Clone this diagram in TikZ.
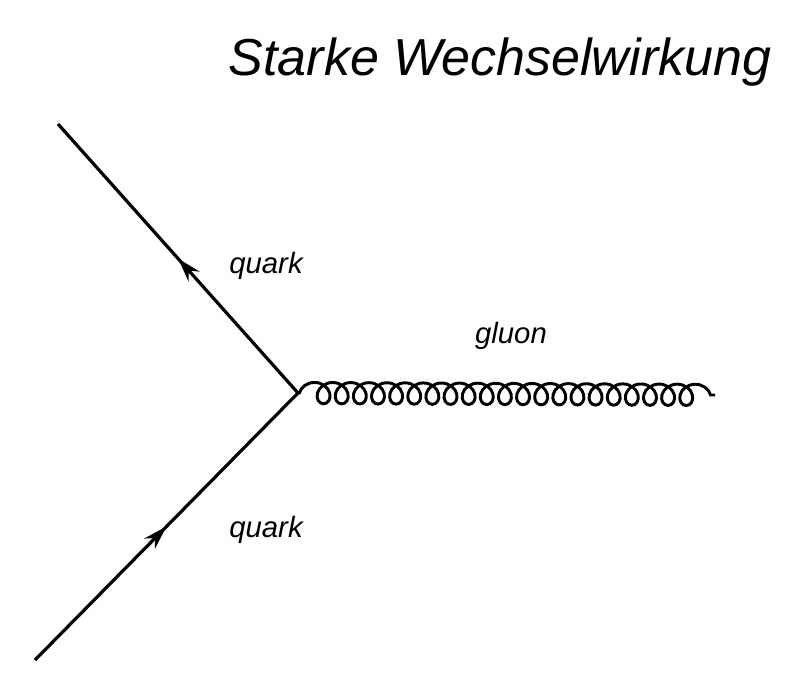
\documentclass[tikz,border=0pt]{standalone}
\usepackage{fontspec}
\setmainfont{Liberation Sans}
\usetikzlibrary{decorations.pathmorphing,decorations.markings,arrows.meta}
\begin{document}
\begin{tikzpicture}[x=0.75pt,y=-0.75pt,
  fermion/.style={line width=2.4pt,postaction={decorate},decoration={markings,mark=at position 0.5 with {\arrow{Stealth[length=18pt,width=11pt]}}}},
  gluon/.style={line width=2.2pt,decorate,decoration={coil,aspect=1,segment length=13.6pt,amplitude=8pt,pre length=1pt,post length=1pt}},
  lbl/.style={font=\itshape\fontsize{22}{26}\selectfont}]
\useasboundingbox (0,0) rectangle (800,700);
\node[font=\itshape\fontsize{39}{46}\selectfont] (title) at (500,62) {Starke Wechselwirkung};
\coordinate (v) at (298,393);
\coordinate (a) at (58,124);
\coordinate (b) at (35,660);
\coordinate (g) at (715,395);
\draw[fermion] (v) -- (a);
\draw[fermion] (b) -- (v);
\draw[gluon] (v) -- (g);
\node[lbl] (q1) at (266,266) {quark};
\node[lbl] (q2) at (266,530) {quark};
\node[lbl] (gl) at (511,336) {gluon};
\end{tikzpicture}
\end{document}
